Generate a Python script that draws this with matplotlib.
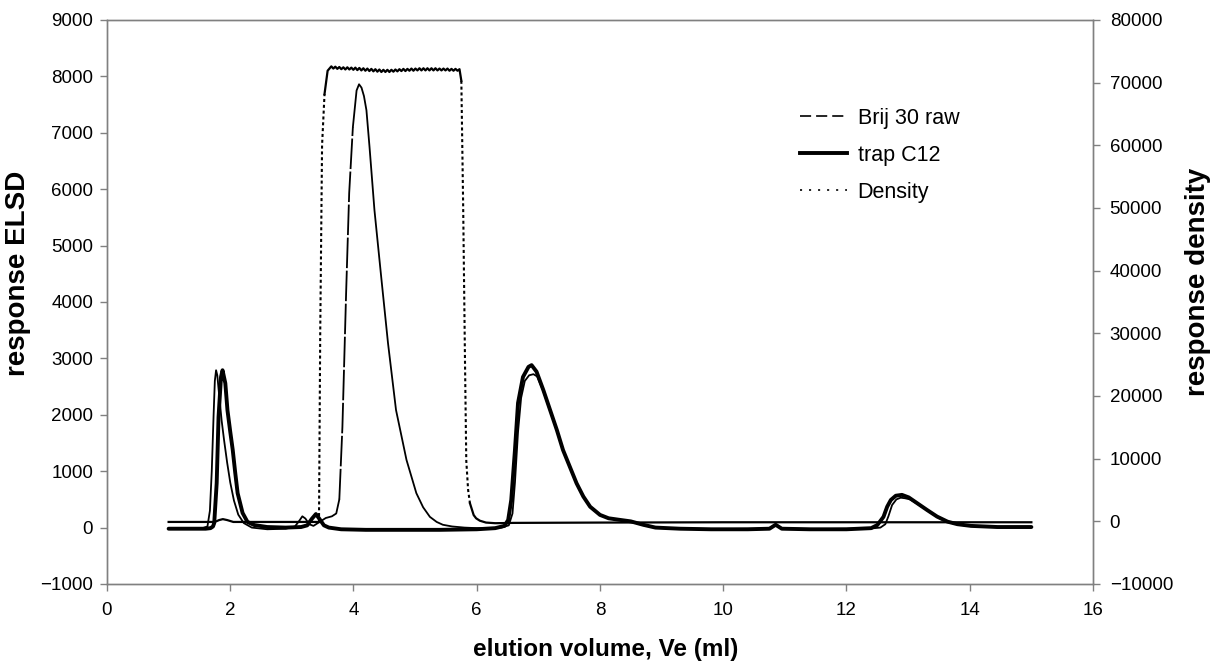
import numpy as np
import matplotlib
matplotlib.use("Agg")
import matplotlib.pyplot as plt
from matplotlib.lines import Line2D

plt.rcParams['font.family'] = ['Liberation Sans', 'DejaVu Sans']
plt.rcParams['lines.scale_dashes'] = False

# ELSD trace of the raw surfactant
brij_x = [1.00, 1.55, 1.63, 1.67, 1.70, 1.73, 1.75, 1.77, 1.79, 1.82, 1.86, 1.90,
          1.95, 2.00, 2.06, 2.13, 2.22, 2.35, 2.60, 2.90, 3.05, 3.12, 3.17, 3.22,
          3.28, 3.35, 3.45, 3.55, 3.65, 3.72, 3.77, 3.82, 3.88, 3.93, 3.99, 4.05,
          4.09, 4.13, 4.17, 4.21, 4.26, 4.34, 4.45, 4.56, 4.69, 4.86, 5.02, 5.13,
          5.24, 5.35, 5.45, 5.60, 5.80, 6.00, 6.20, 6.40, 6.52, 6.58, 6.62, 6.67,
          6.72, 6.78, 6.85, 6.92, 6.98, 7.08, 7.19, 7.30, 7.40, 7.51, 7.62, 7.73,
          7.84, 8.00, 8.15, 8.35, 8.55, 8.75, 9.00, 9.50, 10.00, 10.50, 10.75, 10.85,
          10.95, 11.20, 11.60, 12.00, 12.40, 12.55, 12.63, 12.68, 12.74, 12.81, 12.88, 12.95,
          13.03, 13.15, 13.31, 13.47, 13.64, 13.80, 14.02, 14.45, 15.00]
brij_y = [-10, -10, 20, 300, 1000, 2000, 2600, 2790, 2700, 2350, 1900, 1550,
          1150, 800, 480, 230, 80, 0, -30, -20, 20, 120, 200, 160,
          60, 30, 100, 170, 200, 250, 500, 1780, 4150, 5930, 7100, 7750,
          7860, 7800, 7650, 7400, 6750, 5630, 4440, 3270, 2085, 1200, 610, 360,
          190, 100, 50, 20, 0, -10, -10, 0, 40, 250, 800, 1700,
          2300, 2600, 2700, 2720, 2680, 2420, 2070, 1720, 1370, 1070, 780, 545,
          365, 220, 160, 130, 90, 30, -10, -20, -25, -20, -10, 50,
          -10, -20, -25, -20, -15, 0, 60, 200, 400, 500, 530, 520,
          500, 420, 305, 190, 100, 55, 25, 5, 5]

# ELSD trace of the trapped C12 fraction
trap_x = [1.00, 1.60, 1.68, 1.72, 1.74, 1.78, 1.81, 1.85, 1.875, 1.92, 1.955, 2.00,
          2.04, 2.08, 2.12, 2.20, 2.28, 2.39, 2.60, 2.90, 3.15, 3.25, 3.32, 3.39,
          3.45, 3.52, 3.60, 3.80, 4.20, 4.80, 5.40, 6.00, 6.30, 6.45, 6.51, 6.56,
          6.62, 6.67, 6.75, 6.84, 6.89, 6.97, 7.08, 7.19, 7.30, 7.40, 7.51, 7.62,
          7.73, 7.84, 8.00, 8.14, 8.30, 8.50, 8.70, 8.90, 9.30, 9.80, 10.40, 10.75,
          10.85, 10.95, 11.40, 12.00, 12.40, 12.50, 12.60, 12.66, 12.72, 12.80, 12.90, 13.01,
          13.15, 13.31, 13.47, 13.64, 13.80, 14.02, 14.45, 15.00]
trap_y = [-20, -20, -10, 20, 80, 790, 1960, 2670, 2790, 2560, 2080, 1700,
          1380, 980, 610, 260, 100, 45, 10, 0, 10, 40, 150, 240,
          150, 40, 0, -30, -40, -40, -40, -30, -10, 30, 135, 490,
          1375, 2210, 2670, 2850, 2880, 2765, 2440, 2085, 1730, 1375, 1080, 785,
          550, 370, 225, 165, 140, 110, 50, 0, -20, -30, -30, -20,
          50, -20, -30, -30, -10, 45, 190, 370, 490, 565, 580, 535,
          430, 310, 195, 105, 60, 30, 10, 10]

# density detector, right axis
dens_head_x = [1.00, 1.75, 1.82, 1.88, 1.95, 2.05, 3.40, 3.44, 3.46, 3.49, 3.53, 3.58]
dens_head_y = [-100, -100, 200, 350, 200, -100, -100, -100, 30000, 60000, 68200, 71900]
dens_plateau = [
    72600, 72250, 72550, 72200, 72500, 72150, 72450, 72100, 72450, 72100,
    72400, 72050, 72400, 72000, 72350, 71950, 72300, 71900, 72250, 71850,
    72200, 71800, 72150, 71750, 72100, 71700, 72050, 71700, 72050, 71700,
    72050, 71750, 72100, 71800, 72150, 71850, 72200, 71850, 72200, 71900,
    72250, 71900, 72250, 71950, 72300, 71950, 72300, 71950, 72300, 71950,
    72300, 71950, 72300, 71950, 72250, 71950, 72250, 71950, 72250, 71900,
    72200, 71900, 72200, 71900, 72150]
dens_tail_x = [5.75, 5.78, 5.81, 5.83, 5.86, 5.89, 5.95, 5.99, 6.05, 6.15, 6.30, 6.60,
               8.00, 10.00, 12.00, 15.00]
dens_tail_y = [70300, 50000, 25000, 9700, 5000, 2870, 1000, 480, 100, -200, -300, -250,
               -200, -150, -150, -150]

dens_x = dens_head_x + list(np.linspace(3.64, 5.72, len(dens_plateau))) + dens_tail_x
dens_y = dens_head_y + dens_plateau + dens_tail_y

x_ticks = list(range(0, 17, 2))
elsd_ticks = list(range(-1000, 9001, 1000))
dens_ticks = list(range(-10000, 80001, 10000))

GREY = '#808080'


def draw_runs(ax, x, y, spans, solid, broken):
    """Plot a trace solid, switching to a broken pattern inside the given x spans."""
    x = np.asarray(x, float)
    y = np.asarray(y, float)
    mid = (x[:-1] + x[1:]) / 2
    flag = np.zeros(len(mid), bool)
    for a, b in spans:
        flag |= (mid >= a) & (mid <= b)
    start = 0
    for i in range(1, len(flag) + 1):
        if i == len(flag) or flag[i] != flag[start]:
            style = broken if flag[start] else solid
            ax.plot(x[start:i + 1], y[start:i + 1], **style)
            start = i


fig = plt.figure(figsize=(12.2, 6.64), dpi=100)
ax = fig.add_axes([0.0877, 0.1205, 0.8082, 0.8494])
ax2 = ax.twinx()

thin = dict(color='black', lw=1.3, solid_capstyle='round', solid_joinstyle='round')
draw_runs(ax, brij_x, brij_y, [(3.77, 3.99)], thin,
          dict(thin, linestyle=(0, (22, 1.8)), dash_capstyle='butt'))
ax.plot(trap_x, trap_y, color='black', lw=2.8, solid_joinstyle='round', solid_capstyle='round')
draw_runs(ax2, dens_x, dens_y, [(3.44, 3.53), (5.74, 5.89)],
          dict(color='black', lw=1.6, solid_joinstyle='round'),
          dict(color='black', lw=1.5, linestyle=(0, (2.2, 2.0))))

ax.set_xlim(0, 16)
ax.set_ylim(-1000, 9000)
ax2.set_ylim(-10000, 80000)
ax.set_xticks(x_ticks)
ax.set_yticks(elsd_ticks)
ax2.set_yticks(dens_ticks)

for a in (ax, ax2):
    for s in a.spines.values():
        s.set_color(GREY)
        s.set_linewidth(1.0)
    a.tick_params(direction='out', length=5, width=1, color=GREY,
                  labelcolor='black', labelsize=13.5, pad=5)
ax.tick_params(axis='x', pad=8)
ax2.tick_params(axis='y', pad=7)

# axis titles, placed by their centres
ax.set_xlabel('elution volume, Ve (ml)', fontsize=17.5, fontweight='bold', va='center')
ax.xaxis.set_label_coords(0.506, -0.117)
ax.set_ylabel('response ELSD', fontsize=20, fontweight='bold', va='center')
ax.yaxis.set_label_coords(-0.0905, 0.551)
ax2.set_ylabel('response density', fontsize=20, fontweight='bold', va='center')
ax2.yaxis.set_label_coords(1.1065, 0.535)

handles = [
    Line2D([], [], color='black', lw=1.2, linestyle=(0, (8, 3.6))),
    Line2D([], [], color='black', lw=2.8),
    Line2D([], [], color='black', lw=1.2, linestyle=(0, (1.5, 5))),
]
ax2.legend(handles, ['Brij 30 raw', 'trap C12', 'Density'],
           loc='upper left', bbox_to_anchor=(791 / 1220, 1 - 99 / 664),
           bbox_transform=fig.transFigure, frameon=False, fontsize=15.5,
           handlelength=2.2, handletextpad=0.5, labelspacing=0.75, borderaxespad=0)

fig.savefig('out.png', dpi=100)
